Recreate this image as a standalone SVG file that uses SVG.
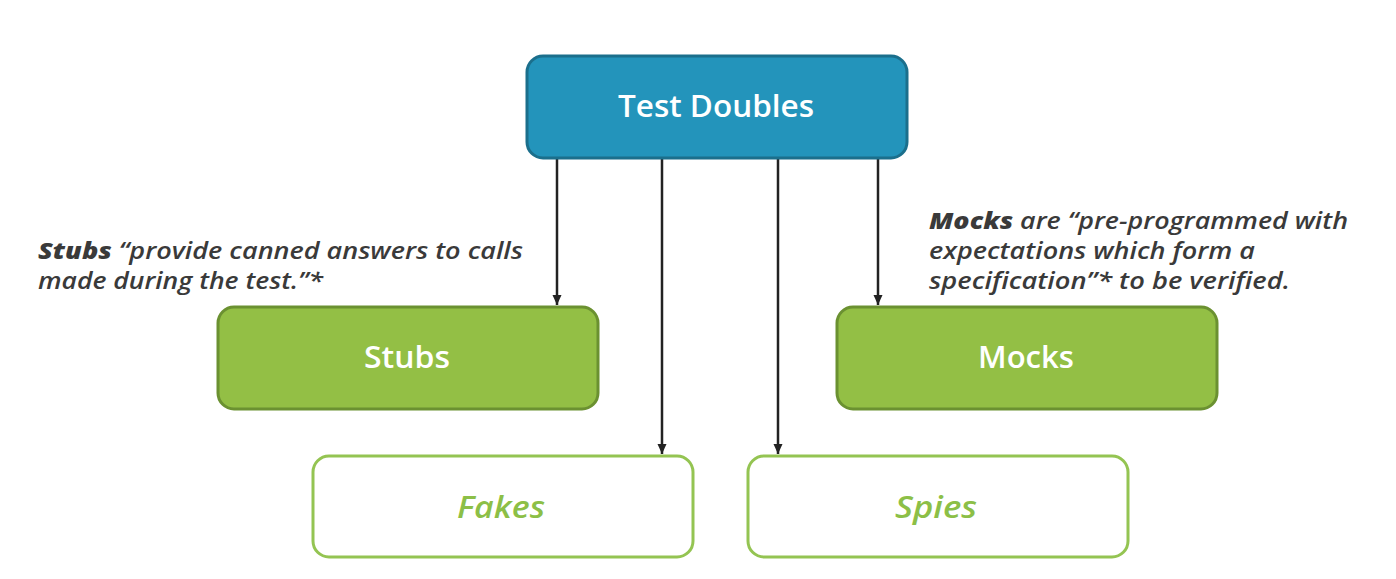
<svg xmlns="http://www.w3.org/2000/svg" width="1396" height="579" viewBox="0 0 1396 579">
  <defs>
    <marker id="arrow" viewBox="0 0 10 10" refX="10" refY="5" markerWidth="11" markerHeight="10" markerUnits="userSpaceOnUse" orient="auto">
      <path d="M0,0.5 L10,5 L0,9.5 Z" fill="#222"/>
    </marker>
  </defs>
  <style>
    .blue { fill: #2394bb; stroke: #1b6f8c; stroke-width: 3; }
    .green { fill: #93bf45; stroke: #6b9131; stroke-width: 3; }
    .outline { fill: #ffffff; stroke: #94c452; stroke-width: 3; }
    .lbl { font-family: "Open Sans", "Liberation Sans", sans-serif; font-size: 30px; font-weight: 600; fill: #ffffff; text-anchor: middle; }
    .lblg { font-family: "Open Sans", "Liberation Sans", sans-serif; font-size: 30px; font-style: italic; font-weight: 600; fill: #8cbf47; text-anchor: middle; }
    .note { font-family: "Open Sans", "Liberation Sans", sans-serif; font-size: 23px; font-style: italic; font-weight: 600; fill: #3a3a3a; }
    .note .b { font-weight: 800; }
    .conn { stroke: #222; stroke-width: 2.5; fill: none; }
  </style>
  <rect width="1396" height="579" fill="#ffffff"/>
  <g id="connectors">
    <line class="conn" x1="557" y1="158" x2="557" y2="305" marker-end="url(#arrow)"/>
    <line class="conn" x1="662" y1="158" x2="662" y2="454" marker-end="url(#arrow)"/>
    <line class="conn" x1="778" y1="158" x2="778" y2="454" marker-end="url(#arrow)"/>
    <line class="conn" x1="878" y1="158" x2="878" y2="305" marker-end="url(#arrow)"/>
  </g>
  <g id="test-doubles">
    <rect class="blue" x="527" y="56" width="380" height="102" rx="16"/>
    <text class="lbl" x="716" y="117" textLength="196" lengthAdjust="spacingAndGlyphs">Test Doubles</text>
  </g>
  <g id="stubs">
    <rect class="green" x="218" y="307" width="380" height="102" rx="16"/>
    <text class="lbl" x="407" y="368" textLength="86" lengthAdjust="spacingAndGlyphs">Stubs</text>
  </g>
  <g id="mocks">
    <rect class="green" x="837" y="307" width="380" height="102" rx="16"/>
    <text class="lbl" x="1026" y="368" textLength="96" lengthAdjust="spacingAndGlyphs">Mocks</text>
  </g>
  <g id="fakes">
    <rect class="outline" x="313" y="456" width="380" height="101" rx="16"/>
    <text class="lblg" x="501" y="518" textLength="88" lengthAdjust="spacingAndGlyphs">Fakes</text>
  </g>
  <g id="spies">
    <rect class="outline" x="748" y="456" width="380" height="101" rx="16"/>
    <text class="lblg" x="936" y="518" textLength="82" lengthAdjust="spacingAndGlyphs">Spies</text>
  </g>
  <g id="stubs-note">
    <text class="note" x="38" y="259" textLength="485" lengthAdjust="spacingAndGlyphs"><tspan class="b">Stubs</tspan> “provide canned answers to calls</text>
    <text class="note" x="38" y="289" textLength="285" lengthAdjust="spacingAndGlyphs">made during the test.”*</text>
  </g>
  <g id="mocks-note">
    <text class="note" x="929" y="229" textLength="419" lengthAdjust="spacingAndGlyphs"><tspan class="b">Mocks</tspan> are “pre-programmed with</text>
    <text class="note" x="929" y="259" textLength="326" lengthAdjust="spacingAndGlyphs">expectations which form a</text>
    <text class="note" x="929" y="289" textLength="361" lengthAdjust="spacingAndGlyphs">specification”* to be verified.</text>
  </g>
</svg>
